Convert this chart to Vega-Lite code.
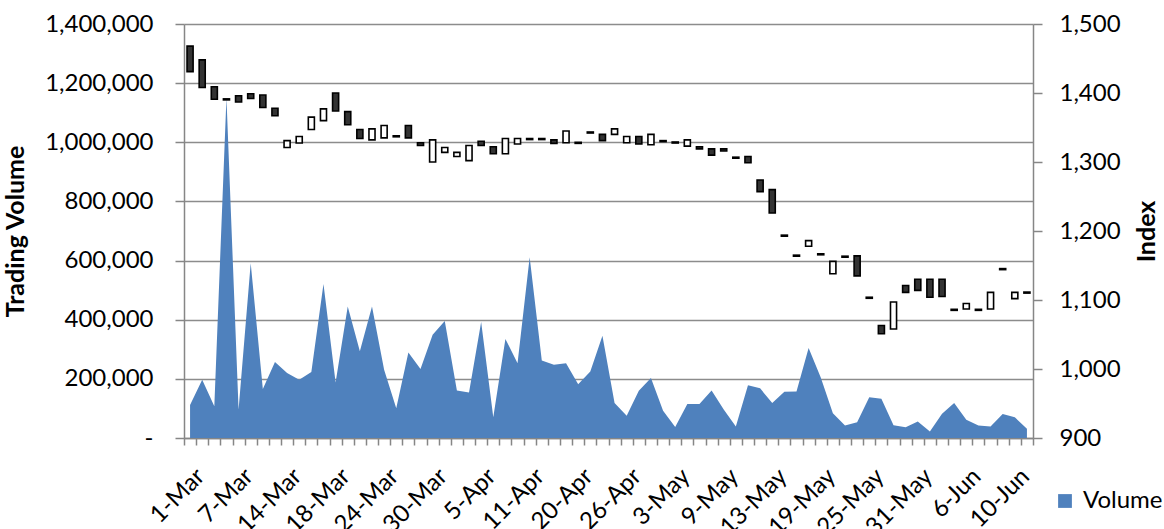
{
  "$schema": "https://vega.github.io/schema/vega-lite/v6.json",
  "width": 849,
  "height": 414,
  "autosize": {"type": "none"},
  "padding": {"left": 184, "top": 24, "right": 131, "bottom": 91},
  "background": "white",
  "config": {
    "view": {"stroke": null},
    "font": "Lato",
    "axis": {
      "labelFont": "Lato",
      "labelFontSize": 24,
      "labelColor": "#000000",
      "titleFont": "Lato",
      "titleFontSize": 25,
      "titleFontWeight": "bold",
      "titleColor": "#000000",
      "domainColor": "#868686",
      "domainWidth": 1.5,
      "tickColor": "#868686",
      "tickWidth": 1.5,
      "gridColor": "#8c8c8c",
      "gridWidth": 1.4
    }
  },
  "data": {
    "values": [
      {"date": "1-Mar", "volume": 112000, "open": 1468, "close": 1431},
      {"date": "2-Mar", "volume": 197000, "open": 1448, "close": 1408},
      {"date": "3-Mar", "volume": 107000, "open": 1409, "close": 1391},
      {"date": "4-Mar", "volume": 1150000, "open": 1391.5, "close": 1390},
      {"date": "7-Mar", "volume": 96000, "open": 1396, "close": 1387},
      {"date": "8-Mar", "volume": 591000, "open": 1399, "close": 1392},
      {"date": "9-Mar", "volume": 166000, "open": 1397, "close": 1379},
      {"date": "10-Mar", "volume": 257000, "open": 1378, "close": 1367},
      {"date": "14-Mar", "volume": 220000, "open": 1321, "close": 1331},
      {"date": "15-Mar", "volume": 197000, "open": 1327.5, "close": 1337},
      {"date": "16-Mar", "volume": 223000, "open": 1347, "close": 1365},
      {"date": "17-Mar", "volume": 521000, "open": 1360, "close": 1377},
      {"date": "18-Mar", "volume": 188000, "open": 1400, "close": 1374},
      {"date": "21-Mar", "volume": 445000, "open": 1373, "close": 1354},
      {"date": "22-Mar", "volume": 293000, "open": 1347, "close": 1334},
      {"date": "23-Mar", "volume": 445000, "open": 1332, "close": 1348},
      {"date": "24-Mar", "volume": 231000, "open": 1335, "close": 1353},
      {"date": "25-Mar", "volume": 101000, "open": 1338, "close": 1336.5},
      {"date": "28-Mar", "volume": 289000, "open": 1353, "close": 1335},
      {"date": "29-Mar", "volume": 233000, "open": 1328, "close": 1324},
      {"date": "30-Mar", "volume": 349000, "open": 1300, "close": 1332},
      {"date": "31-Mar", "volume": 396000, "open": 1314, "close": 1321},
      {"date": "1-Apr", "volume": 161000, "open": 1308, "close": 1314},
      {"date": "4-Apr", "volume": 154000, "open": 1302, "close": 1324},
      {"date": "5-Apr", "volume": 392000, "open": 1330, "close": 1324},
      {"date": "6-Apr", "volume": 70000, "open": 1322, "close": 1312},
      {"date": "7-Apr", "volume": 335000, "open": 1312, "close": 1334},
      {"date": "8-Apr", "volume": 253000, "open": 1326, "close": 1334},
      {"date": "11-Apr", "volume": 611000, "open": 1334, "close": 1332.5},
      {"date": "12-Apr", "volume": 262000, "open": 1334, "close": 1332.5},
      {"date": "18-Apr", "volume": 248000, "open": 1332, "close": 1327},
      {"date": "19-Apr", "volume": 253000, "open": 1328, "close": 1345},
      {"date": "20-Apr", "volume": 182000, "open": 1328.5, "close": 1327},
      {"date": "21-Apr", "volume": 225000, "open": 1343.5, "close": 1342},
      {"date": "22-Apr", "volume": 346000, "open": 1340, "close": 1331},
      {"date": "25-Apr", "volume": 118000, "open": 1340, "close": 1348},
      {"date": "26-Apr", "volume": 75000, "open": 1328, "close": 1337},
      {"date": "27-Apr", "volume": 160000, "open": 1337, "close": 1326},
      {"date": "28-Apr", "volume": 203000, "open": 1325, "close": 1340},
      {"date": "29-Apr", "volume": 92000, "open": 1331, "close": 1329.5},
      {"date": "3-May", "volume": 37000, "open": 1329, "close": 1327.5},
      {"date": "4-May", "volume": 115000, "open": 1323, "close": 1332},
      {"date": "5-May", "volume": 115000, "open": 1322, "close": 1319},
      {"date": "6-May", "volume": 161000, "open": 1319, "close": 1310},
      {"date": "9-May", "volume": 96000, "open": 1319, "close": 1316},
      {"date": "10-May", "volume": 39000, "open": 1307, "close": 1305.5},
      {"date": "11-May", "volume": 178000, "open": 1308, "close": 1299},
      {"date": "12-May", "volume": 168000, "open": 1274, "close": 1257},
      {"date": "13-May", "volume": 118000, "open": 1260, "close": 1226},
      {"date": "16-May", "volume": 156000, "open": 1194, "close": 1192.5},
      {"date": "17-May", "volume": 157000, "open": 1165, "close": 1163.5},
      {"date": "18-May", "volume": 304000, "open": 1178, "close": 1186},
      {"date": "19-May", "volume": 205000, "open": 1167, "close": 1165.5},
      {"date": "20-May", "volume": 84000, "open": 1138, "close": 1156},
      {"date": "23-May", "volume": 42000, "open": 1163.5, "close": 1162},
      {"date": "24-May", "volume": 53000, "open": 1164, "close": 1135},
      {"date": "25-May", "volume": 138000, "open": 1104, "close": 1102.5},
      {"date": "26-May", "volume": 133000, "open": 1063, "close": 1051},
      {"date": "27-May", "volume": 43000, "open": 1058, "close": 1097},
      {"date": "30-May", "volume": 36000, "open": 1121, "close": 1111},
      {"date": "31-May", "volume": 56000, "open": 1130, "close": 1114},
      {"date": "1-Jun", "volume": 22000, "open": 1130, "close": 1104},
      {"date": "2-Jun", "volume": 82000, "open": 1130, "close": 1105},
      {"date": "3-Jun", "volume": 118000, "open": 1086.5, "close": 1085},
      {"date": "6-Jun", "volume": 62000, "open": 1087, "close": 1095},
      {"date": "7-Jun", "volume": 42000, "open": 1086.5, "close": 1085},
      {"date": "8-Jun", "volume": 39000, "open": 1087, "close": 1111},
      {"date": "9-Jun", "volume": 81000, "open": 1145.5, "close": 1144},
      {"date": "10-Jun", "volume": 70000, "open": 1102, "close": 1111},
      {"date": "13-Jun", "volume": 31000, "open": 1111.5, "close": 1110}
    ]
  },
  "layer": [
    {
      "mark": {"type": "area", "opacity": 1},
      "encoding": {
        "x": {
          "field": "date",
          "type": "ordinal",
          "sort": null,
          "bandPosition": 0.5,
          "scale": {"type": "band", "paddingInner": 0, "paddingOuter": 0},
          "axis": {
            "title": null,
            "tickBand": "extent",
            "tickSize": 7,
            "labelAngle": -45,
            "labelFontSize": 24,
            "labelPadding": 19,
            "labelOffset": 2,
            "labelOverlap": false,
            "labelExpr": "indexof(['1-Mar','7-Mar','14-Mar','18-Mar','24-Mar','30-Mar','5-Apr','11-Apr','20-Apr','26-Apr','3-May','9-May','13-May','19-May','25-May','31-May','6-Jun','10-Jun'], datum.value) >= 0 ? datum.value : ''"
          }
        },
        "y": {
          "field": "volume",
          "type": "quantitative",
          "scale": {"domain": [0, 1400000], "nice": false, "zero": true},
          "axis": {
            "orient": "left",
            "title": "Trading Volume",
            "values": [0, 200000, 400000, 600000, 800000, 1000000, 1200000, 1400000],
            "labelExpr": "datum.value == 0 ? '-\u00a0\u00a0' : format(datum.value, ',')",
            "tickSize": 9,
            "labelPadding": 22,
            "titlePadding": 16,
            "grid": true
          }
        },
        "color": {
          "datum": "Volume",
          "type": "nominal",
          "scale": {"range": ["#4F81BD"]},
          "legend": {
            "orient": "none",
            "legendX": 869,
            "legendY": 465,
            "title": null,
            "padding": 0,
            "symbolType": "square",
            "symbolSize": 190,
            "symbolStrokeWidth": 0,
            "labelFont": "Lato",
            "labelFontSize": 24,
            "labelColor": "#000000",
            "labelOffset": 6
          }
        }
      }
    },
    {
      "mark": {"type": "bar", "width": {"band": 0.5}, "stroke": "#000000", "strokeWidth": 1.6},
      "encoding": {
        "x": {
          "field": "date",
          "type": "ordinal",
          "sort": null,
          "scale": {"type": "band", "paddingInner": 0, "paddingOuter": 0}
        },
        "y": {
          "field": "open",
          "type": "quantitative",
          "scale": {"domain": [900, 1500], "nice": false, "zero": false},
          "axis": {
            "orient": "right",
            "title": "Index",
            "values": [900, 1000, 1100, 1200, 1300, 1400, 1500],
            "labelExpr": "format(datum.value, ',')",
            "tickSize": 9,
            "labelPadding": 17,
            "titlePadding": 14,
            "titleAngle": -90,
            "titleBaseline": "top",
            "grid": false
          }
        },
        "y2": {"field": "close"},
        "fill": {
          "condition": {"test": "datum.close > datum.open", "value": "#ffffff"},
          "value": "#333333"
        }
      }
    }
  ],
  "resolve": {"scale": {"y": "independent"}}
}
